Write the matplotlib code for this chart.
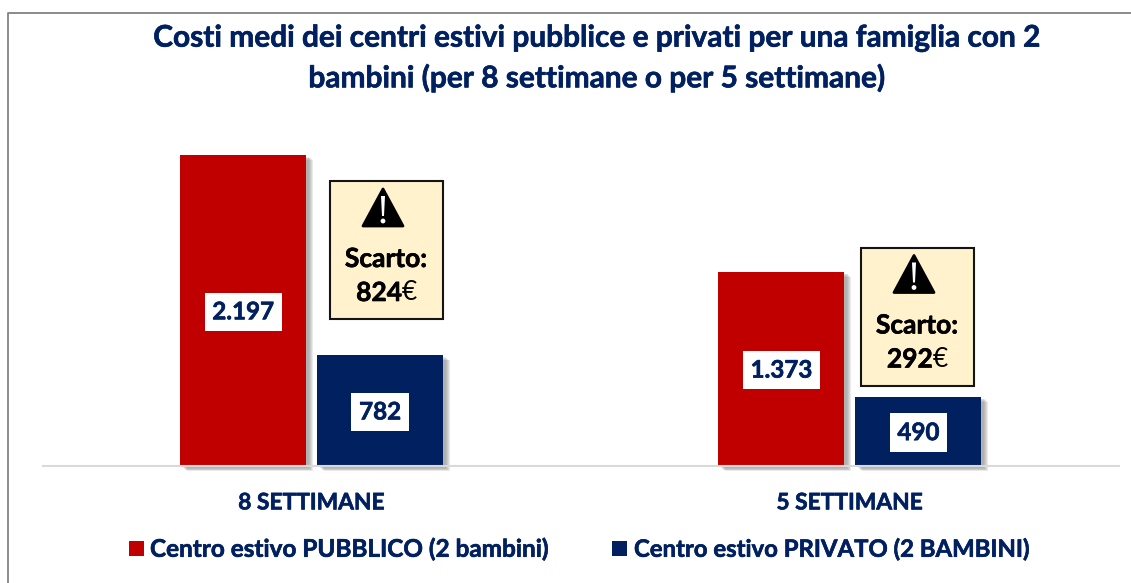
import matplotlib
matplotlib.use("Agg")
import matplotlib.pyplot as plt
from matplotlib.patches import Rectangle, Polygon, Circle
import matplotlib.patheffects as pe
import numpy as np

categories = ["8 SETTIMANE", "5 SETTIMANE"]
pubblico = [2197, 1373]
privato = [782, 490]
labels_pubblico = ["2.197", "1.373"]
labels_privato = ["782", "490"]
scarti = ["824", "292"]
series_names = ["Centro estivo PUBBLICO (2 bambini)", "Centro estivo PRIVATO (2 BAMBINI)"]
title = "Costi medi dei centri estivi pubblice e privati per una famiglia con 2\nbambini (per 8 settimane o per 5 settimane)"

RED = "#C00000"
NAVY = "#002060"
CREAM = "#FFF2CC"

plt.rcParams["font.family"] = ["Lato", "DejaVu Sans"]
plt.rcParams["font.weight"] = "bold"

W, H = 1131, 583
fig = plt.figure(figsize=(W / 100, H / 100), dpi=100)


# thin stroke so the Lato bold gets as heavy as the original
def heavy(color, w=0.45):
    return [pe.withStroke(linewidth=w, foreground=color)]


# overlay in pixel coordinates for border, title, callouts
over = fig.add_axes([0, 0, 1, 1], zorder=3)
over.set_xlim(0, W)
over.set_ylim(H, 0)
over.axis("off")
over.patch.set_alpha(0)

# chart area frame
over.plot([7.5, 7.5, 1131], [583, 13, 13], color="#7F8387", lw=1.3)

# bars
ax = fig.add_axes([42.5 / W, (H - 466) / H, 1076.5 / W, 440 / H])
x = np.arange(len(categories))
bw = 126 / 538
gap = 11 / 538
# soft shadow: a few offset layers, pixels converted to points
px = 0.72
shadow = [pe.SimplePatchShadow(offset=(o * px, -o * 0.7 * px), shadow_rgbFace="#707070", alpha=0.14)
          for o in (7, 6, 5, 4, 3)] + [pe.Normal()]
b1 = ax.bar(x - (bw + gap) / 2, pubblico, bw, color=RED, path_effects=shadow, zorder=2, clip_on=False)
b2 = ax.bar(x + (bw + gap) / 2, privato, bw, color=NAVY, path_effects=shadow, zorder=2, clip_on=False)
ax.set_xlim(-0.5, 1.5)
ax.set_ylim(0, 440 / (311 / 2197))
ax.set_yticks([])
ax.set_xticks(x)
ax.set_xticklabels(categories, fontsize=16.4, color=NAVY, fontweight="bold", path_effects=heavy(NAVY))
ax.tick_params(axis="x", length=0, pad=19)
for s in ["top", "left", "right"]:
    ax.spines[s].set_visible(False)
ax.spines["bottom"].set_color("#D9D9D9")
ax.spines["bottom"].set_linewidth(1.5)
ax.patch.set_alpha(0)

for bars, labs in ((b1, labels_pubblico), (b2, labels_privato)):
    for r, lab in zip(bars, labs):
        ax.annotate(lab, (r.get_x() + r.get_width() / 2, r.get_height() / 2), xytext=(0, 0.5),
                    textcoords="offset points", ha="center", va="center_baseline",
                    fontsize=17.4, color=NAVY, fontweight="bold", zorder=4, path_effects=heavy(NAVY),
                    bbox=dict(boxstyle="square,pad=0.32", fc="white", ec="none"))

# title
over.text(597, 58, title, ha="center", va="center", fontsize=21.5, color=NAVY, fontweight="bold",
          linespacing=1.48, path_effects=heavy(NAVY))

# scarto callouts
for (bx, by), sc in zip([(330, 181), (861, 247.5)], scarti):
    over.add_patch(Rectangle((bx, by), 113, 138, fc=CREAM, ec="#141414", lw=1.5))
    cx = bx + 53
    over.add_patch(Polygon([[cx, by + 8], [cx + 20, by + 45], [cx - 20, by + 45]], closed=True,
                           fc="black", ec="black", lw=2, joinstyle="round"))
    over.add_patch(Polygon([[cx - 2, by + 15], [cx + 2, by + 15], [cx + 1, by + 35], [cx - 1, by + 35]],
                           closed=True, fc="white", ec="none"))
    over.add_patch(Circle((cx, by + 40), 2.4, fc="white", ec="none"))
    over.text(bx + 56, by + 78, "Scarto:", ha="center", va="center", fontsize=19, color="black",
              fontweight="bold", path_effects=heavy("black"))
    over.text(bx + 72, by + 112, sc, ha="right", va="center", fontsize=19, color="black",
              fontweight="bold", path_effects=heavy("black"))
    over.text(bx + 72, by + 112, "€", ha="left", va="center", fontsize=19, color="black", fontweight="normal")

# legend
for lx, tx, fs, col, name in zip([129, 612], [150, 634], [17.5, 17.2], [RED, NAVY], series_names):
    over.add_patch(Rectangle((lx, 541), 15, 15, fc=col, ec="none"))
    over.text(tx, 549, name, ha="left", va="center", fontsize=fs, color=NAVY, fontweight="bold",
              path_effects=heavy(NAVY))

fig.savefig("out.png", dpi=100)
